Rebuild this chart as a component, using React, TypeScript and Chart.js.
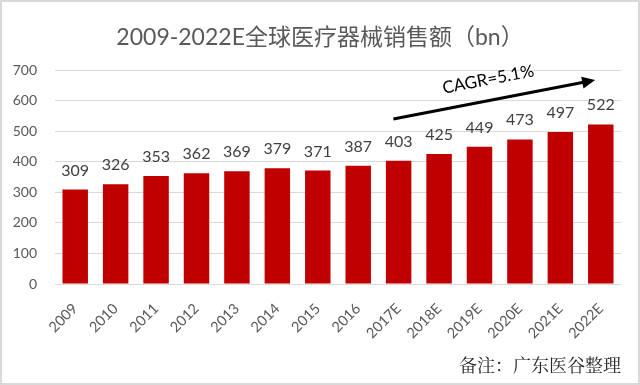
import React, { useEffect, useRef } from "react";
import { Chart, registerables } from "chart.js";

Chart.register(...registerables);

const categories = ["2009", "2010", "2011", "2012", "2013", "2014", "2015", "2016", "2017E", "2018E", "2019E", "2020E", "2021E", "2022E"];
const sales = [309, 326, 353, 362, 369, 379, 371, 387, 403, 425, 449, 473, 497, 522];
const yTicks = [0, 100, 200, 300, 400, 500, 600, 700];
const titleText = "2009-2022E全球医疗器械销售额（bn）";
const cagrText = "CAGR=5.1%";
const noteText = "备注：广东医谷整理";
const arrowFrom = { cat: 7.87, value: 540 };
const arrowTo = { cat: 12.86, value: 667 };

const FONT = "Lato, 'Noto Sans CJK SC', sans-serif";

const decorPlugin = {
  id: "decor",
  afterDatasetsDraw(chart: any) {
    const { ctx } = chart;
    const meta = chart.getDatasetMeta(0);
    ctx.save();
    ctx.fillStyle = "#404040";
    ctx.font = `16px ${FONT}`;
    ctx.textAlign = "center";
    ctx.textBaseline = "alphabetic";
    meta.data.forEach((bar: any, i: number) => {
      ctx.fillText(String(sales[i]), bar.x, bar.y - 14);
    });
    ctx.restore();
  },
  afterDraw(chart: any) {
    const { ctx, scales } = chart;
    const xs = scales.x;
    const ys = scales.y;
    const step = xs.getPixelForValue(1) - xs.getPixelForValue(0);
    const px = (c: number) => xs.getPixelForValue(0) + c * step;
    ctx.save();
    // title
    ctx.fillStyle = "#595959";
    ctx.font = `23px ${FONT}`;
    ctx.textAlign = "center";
    ctx.textBaseline = "middle";
    ctx.fillText(titleText, 320, 38);
    // arrow
    const x1 = px(arrowFrom.cat), y1 = ys.getPixelForValue(arrowFrom.value);
    const x2 = px(arrowTo.cat), y2 = ys.getPixelForValue(arrowTo.value);
    const ang = Math.atan2(y2 - y1, x2 - x1);
    const head = 13;
    ctx.strokeStyle = "#000";
    ctx.fillStyle = "#000";
    ctx.lineWidth = 3;
    ctx.beginPath();
    ctx.moveTo(x1, y1);
    ctx.lineTo(x2 - Math.cos(ang) * head * 0.8, y2 - Math.sin(ang) * head * 0.8);
    ctx.stroke();
    ctx.beginPath();
    ctx.moveTo(x2, y2);
    ctx.lineTo(x2 - head * Math.cos(ang) + 6 * Math.sin(ang), y2 - head * Math.sin(ang) - 6 * Math.cos(ang));
    ctx.lineTo(x2 - head * Math.cos(ang) - 6 * Math.sin(ang), y2 - head * Math.sin(ang) + 6 * Math.cos(ang));
    ctx.closePath();
    ctx.fill();
    // CAGR label
    ctx.translate((x1 + x2) / 2 - 6, (y1 + y2) / 2 - 20);
    ctx.rotate(ang);
    ctx.fillStyle = "#000";
    ctx.font = `17px ${FONT}`;
    ctx.textAlign = "center";
    ctx.textBaseline = "middle";
    ctx.fillText(cagrText, 0, 0);
    ctx.restore();
    // note
    ctx.save();
    ctx.fillStyle = "#262626";
    ctx.font = `18px 'Noto Serif CJK SC', 'Noto Sans CJK SC', serif`;
    ctx.textAlign = "right";
    ctx.textBaseline = "middle";
    ctx.fillText(noteText, 621, 365);
    // border
    ctx.strokeStyle = "#d9d9d9";
    ctx.lineWidth = 2;
    ctx.strokeRect(1, 1, 638, 383);
    ctx.restore();
  },
};

export default function App() {
  const ref = useRef<HTMLCanvasElement>(null);
  useEffect(() => {
    if (!ref.current) return;
    const chart = new Chart(ref.current, {
      type: "bar",
      data: {
        labels: categories,
        datasets: [
          {
            data: sales,
            backgroundColor: "#C00000",
            categoryPercentage: 1,
            barPercentage: 0.63,
          },
        ],
      },
      options: {
        animation: false,
        responsive: false,
        layout: { padding: { top: 70, right: 19, bottom: 36, left: 0 } },
        plugins: { legend: { display: false }, title: { display: false }, tooltip: { enabled: false } },
        scales: {
          x: {
            grid: { display: false },
            border: { display: false },
            ticks: {
              color: "#595959",
              font: { family: FONT, size: 14.5 },
              maxRotation: 45,
              minRotation: 45,
              autoSkip: false,
              padding: 8,
            },
            afterFit: (s: any) => {
              s.height = 65;
            },
          },
          y: {
            min: 0,
            max: 700,
            afterBuildTicks: (s: any) => {
              s.ticks = yTicks.map((v) => ({ value: v }));
            },
            grid: { color: "#d9d9d9", lineWidth: 1, drawTicks: false },
            border: { display: false },
            ticks: {
              color: "#595959",
              font: { family: FONT, size: 14 },
              padding: 18,
            },
            afterFit: (s: any) => {
              s.width = 55;
            },
          },
        },
      },
      plugins: [decorPlugin],
    });
    return () => chart.destroy();
  }, []);
  return (
    <div style={{ position: "absolute", left: 0, top: 0, width: 640, height: 385, background: "#fff" }}>
      <canvas ref={ref} width={640} height={385} style={{ width: 640, height: 385 }} />
    </div>
  );
}
